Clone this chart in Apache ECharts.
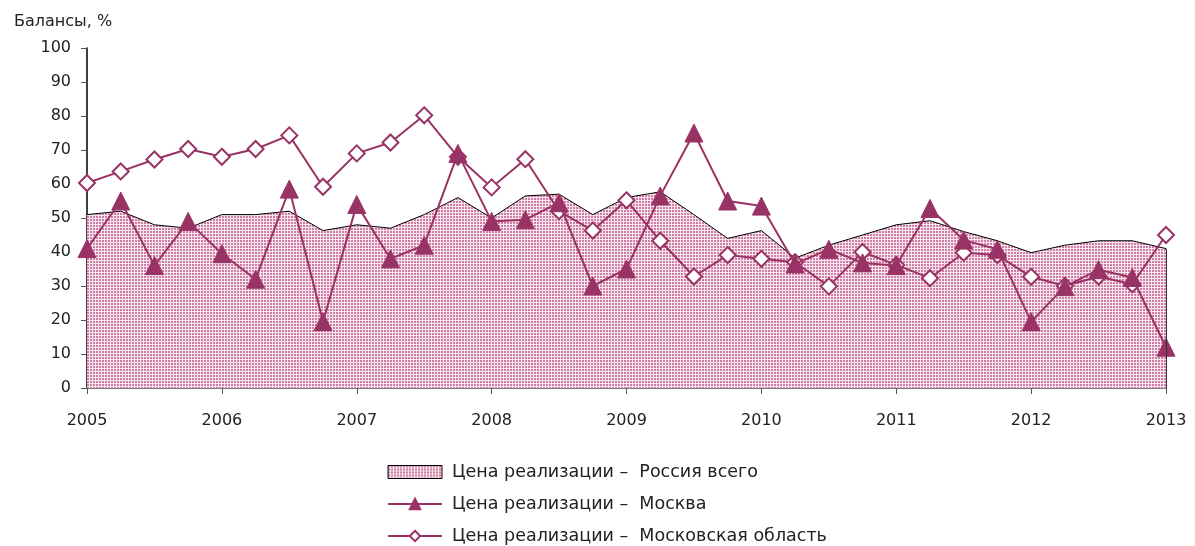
<!DOCTYPE html>
<html>
<head>
<meta charset="utf-8">
<script src="https://cdn.jsdelivr.net/npm/echarts@6/dist/echarts.min.js"></script>
<style>
  html, body { margin: 0; padding: 0; background: #fff; }
  #main { width: 1195px; height: 546px; }
</style>
</head>
<body>
<div id="main"></div>
<script>
var years = ['2005', '2006', '2007', '2008', '2009', '2010', '2011', '2012', '2013'];

// quarterly points, 2005 Q1 .. 2013 Q1
var russia = [51, 52, 48, 47, 51, 51, 52, 46.3, 48, 47,
              51, 56, 50, 56.5, 57, 51, 56, 57.7, 51, 44,
              46.3, 38.2, 42, 45, 48, 49.2, 46, 43.3, 39.8, 42,
              43.3, 43.3, 41];
var moscow = [41, 55, 36, 49, 39.5, 32, 58.5, 19.5, 54, 38,
              42, 69, 49, 49.5, 54.5, 30, 35, 56.5, 75, 55,
              53.5, 36.5, 40.8, 36.8, 36, 52.8, 43.5, 40.8, 19.5, 29.8,
              34.8, 32.5, 12];
var oblast = [60.3, 63.7, 67.2, 70.3, 68, 70.3, 74.3, 59.2, 69, 72.2,
              80.2, 68, 59, 67.3, 52, 46.3, 55.2, 43.3, 32.8, 39.1,
              38, 37, 29.9, 40, 36.2, 32.3, 39.8, 39.1, 32.7, 30,
              32.8, 30.5, 45];

var categories = [];
years.forEach(function (y, i) {
    for (var q = 0; q < 4; q++) {
        if (i === years.length - 1 && q > 0) break;
        categories.push(q === 0 ? y : y + ' Q' + (q + 1));
    }
});

var names = ['Цена реализации –  Россия всего',
             'Цена реализации –  Москва',
             'Цена реализации –  Московская область'];

var plum = '#993366';

// dotted fill like the excel pattern
var pat = document.createElement('canvas');
pat.width = 3; pat.height = 3;
var pc = pat.getContext('2d');
pc.fillStyle = '#f7e8ef';
pc.fillRect(0, 0, 3, 3);
pc.fillStyle = '#d07ca4';
pc.fillRect(0, 0, 2, 2);
var fill = { image: pat, repeat: 'repeat' };

var chart = echarts.init(document.getElementById('main'));

var font = 'DejaVu Sans';

var option = {
    animation: false,
    textStyle: { fontFamily: font },
    title: {
        text: 'Балансы, %',
        left: 9, top: 9,
        textStyle: { fontFamily: font, fontSize: 16, fontWeight: 'normal', color: '#222' }
    },
    grid: { left: 87, right: 29, top: 48, bottom: 158, containLabel: false },
    legend: {
        orient: 'vertical',
        left: 382, top: 463, height: 100,
        padding: [0, 5],
        itemWidth: 54, itemHeight: 13, itemGap: 14,
        textStyle: { fontFamily: font, fontSize: 17.5, color: '#222', padding: [0, 0, 0, 5] },
        data: [
            { name: names[0], icon: 'rect', itemStyle: { color: fill, borderColor: '#000', borderWidth: 1 } },
            { name: names[1] },
            { name: names[2] }
        ]
    },
    xAxis: {
        type: 'category',
        boundaryGap: false,
        data: categories,
        axisLine: { lineStyle: { color: '#555', width: 1.5 } },
        axisTick: { interval: 3, length: 6, lineStyle: { color: '#555' } },
        axisLabel: {
            interval: 3, margin: 25, fontSize: 16, color: '#222', fontFamily: font,
            formatter: function (v) { return v.length === 4 ? v : ''; }
        },
        splitLine: { show: false }
    },
    yAxis: {
        type: 'value',
        min: 0, max: 100, interval: 10,
        axisLine: { show: true, lineStyle: { color: '#000', width: 1.5 } },
        axisTick: { show: true, length: 6, lineStyle: { color: '#555' } },
        axisLabel: { margin: 16, fontSize: 16, color: '#222', fontFamily: font },
        splitLine: { show: false }
    },
    series: [
        {
            name: names[0],
            type: 'line',
            data: russia,
            symbol: 'none',
            lineStyle: { color: '#000', width: 1 },
            itemStyle: { color: '#b94a80' },
            areaStyle: { color: fill, opacity: 1 },
            z: 1,
            markLine: {
                silent: true,
                symbol: 'none',
                label: { show: false },
                lineStyle: { color: '#333', width: 1, type: 'solid' },
                data: [[
                    { coord: [categories.length - 1, 0] },
                    { coord: [categories.length - 1, russia[russia.length - 1]] }
                ]]
            }
        },
        {
            name: names[1],
            type: 'line',
            data: moscow,
            symbol: 'triangle',
            symbolSize: 18,
            lineStyle: { color: plum, width: 2 },
            itemStyle: { color: plum, borderColor: plum, borderWidth: 1 },
            z: 4
        },
        {
            name: names[2],
            type: 'line',
            data: oblast,
            symbol: 'diamond',
            symbolSize: 16,
            lineStyle: { color: plum, width: 2 },
            itemStyle: { color: '#fff', borderColor: plum, borderWidth: 2 },
            z: 3
        }
    ]
};

chart.setOption(option);
</script>
</body>
</html>
